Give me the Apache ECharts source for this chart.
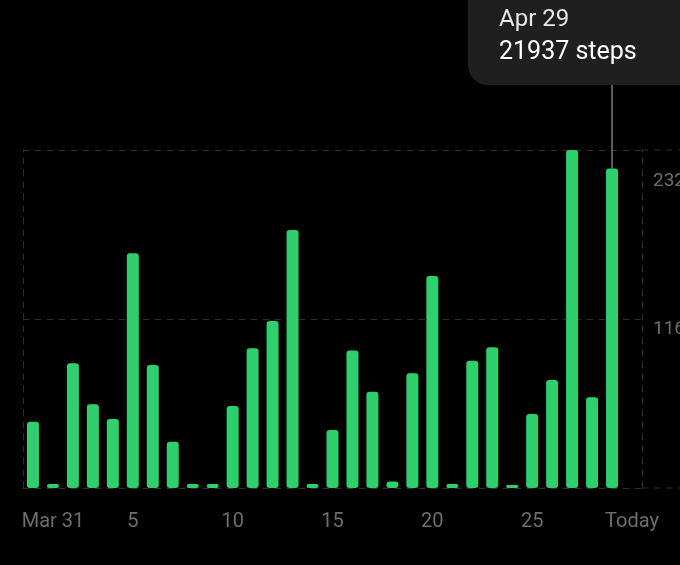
<!DOCTYPE html>
<html>
<head>
<meta charset="utf-8">
<script src="https://cdn.jsdelivr.net/npm/echarts@6/dist/echarts.min.js"></script>
<style>
html,body{margin:0;padding:0;background:#000;}
#c{width:680px;height:565px;}
</style>
</head>
<body>
<div id="c"></div>
<script>
var categories = ['Mar 31','Apr 1','Apr 2','Apr 3','Apr 4','Apr 5','Apr 6','Apr 7','Apr 8','Apr 9','Apr 10',
  'Apr 11','Apr 12','Apr 13','Apr 14','Apr 15','Apr 16','Apr 17','Apr 18','Apr 19','Apr 20',
  'Apr 21','Apr 22','Apr 23','Apr 24','Apr 25','Apr 26','Apr 27','Apr 28','Apr 29','Today'];
var tickLabels = ['Mar 31','','','','','5','','','','','10','','','','','15','','','','','20','','','','','25','','','','','Today'];
var steps = [4550, 280, 8560, 5740, 4740, 16110, 8440, 3180, 280, 280, 5630,
  9590, 11460, 17710, 280, 3980, 9430, 6610, 440, 7870, 14550,
  280, 8740, 9660, 200, 5080, 7410, 23200, 6230, 21937, null];
var yTicks = [0, 11600, 23200];
var highlightIndex = 29;

var GREEN = '#2ecf6c';
var GRID = '#2f2f2f';
var LABEL = '#6d6d6d';

var chart = echarts.init(document.getElementById('c'), null, {renderer: 'canvas'});
var option = {
  backgroundColor: '#000',
  animation: false,
  grid: {left: 23, right: 38, top: 150, bottom: 77, containLabel: false, outerBoundsMode: 'none'},
  xAxis: {
    type: 'category',
    data: categories,
    boundaryGap: true,
    axisLine: {show: true, lineStyle: {color: GRID, type: [6, 6], width: 1}},
    axisTick: {show: false},
    splitLine: {show: false},
    axisLabel: {
      interval: 0,
      margin: 24,
      fontFamily: 'Roboto',
      fontSize: 20,
      color: LABEL,
      formatter: function (v, i) {
        var t = tickLabels[i];
        if (!t) return '';
        if (i === 0) return '{first|' + t + '}';
        return t;
      },
      rich: {
        first: {fontFamily: 'Roboto', fontSize: 20, color: LABEL, padding: [0, 0, 0, 40]}
      }
    }
  },
  yAxis: [{
    type: 'value',
    position: 'right',
    min: yTicks[0],
    max: yTicks[2],
    interval: yTicks[1],
    axisLine: {show: true, lineStyle: {color: GRID, type: [6, 6], width: 1}},
    axisTick: {show: false},
    splitLine: {show: true, lineStyle: {color: GRID, type: [6, 6], width: 1}},
    axisLabel: {
      margin: 11,
      align: 'left',
      verticalAlign: 'top',
      fontFamily: 'Roboto',
      fontSize: 19,
      color: LABEL,
      formatter: function (v) {
        if (v === yTicks[0]) return '';
        if (v === yTicks[2]) return '{top|' + v + '}';
        return '{mid|' + v + '}';
      },
      rich: {
        top: {fontFamily: 'Roboto', fontSize: 19, color: LABEL, padding: [22, 0, 0, 0]},
        mid: {fontFamily: 'Roboto', fontSize: 19, color: LABEL, padding: [1, 0, 0, 0]}
      }
    }
  }, {
    type: 'value',
    position: 'left',
    min: yTicks[0],
    max: yTicks[2],
    interval: yTicks[1],
    axisLine: {show: true, lineStyle: {color: GRID, type: [6, 6], width: 1}},
    axisTick: {show: false},
    splitLine: {show: false},
    axisLabel: {show: false}
  }],
  series: [{
    type: 'bar',
    yAxisIndex: 0,
    data: steps,
    barWidth: 12,
    itemStyle: {color: GREEN, borderRadius: 3}
  }]
};
chart.setOption(option);

// decorations computed from the scales
var topY = chart.convertToPixel({yAxisIndex: 0}, yTicks[2]);
var botY = chart.convertToPixel({yAxisIndex: 0}, yTicks[0]);
var rightX = chart.convertToPixel({xAxisIndex: 0}, categories[categories.length - 1]) + 10;
var barX = chart.convertToPixel({xAxisIndex: 0}, categories[highlightIndex]);
var barTop = chart.convertToPixel({yAxisIndex: 0}, steps[highlightIndex]);
var boxBottom = 85;

chart.setOption({
  graphic: [
    {type: 'line', shape: {x1: rightX, y1: topY, x2: 680, y2: topY}, style: {stroke: GRID, lineWidth: 1, lineDash: [6, 6]}, silent: true},
    {type: 'line', shape: {x1: rightX, y1: botY, x2: 680, y2: botY}, style: {stroke: GRID, lineWidth: 1, lineDash: [6, 6]}, silent: true},
    {type: 'line', shape: {x1: barX, y1: boxBottom, x2: barX, y2: barTop}, style: {stroke: '#7a7a7a', lineWidth: 1.5}, z: 10},
    {type: 'rect', shape: {x: 468, y: -40, width: 260, height: boxBottom + 40, r: 20}, style: {fill: '#1f1f1f'}, z: 11},
    {type: 'text', x: 499, y: 20, style: {text: categories[highlightIndex], fontFamily: 'Roboto', fontSize: 24, fill: '#e8e8e8', verticalAlign: 'middle'}, z: 12},
    {type: 'text', x: 499, y: 53, style: {text: steps[highlightIndex] + ' steps', fontFamily: 'Roboto', fontSize: 25, fill: '#ffffff', verticalAlign: 'middle'}, z: 12}
  ]
});
</script>
</body>
</html>
